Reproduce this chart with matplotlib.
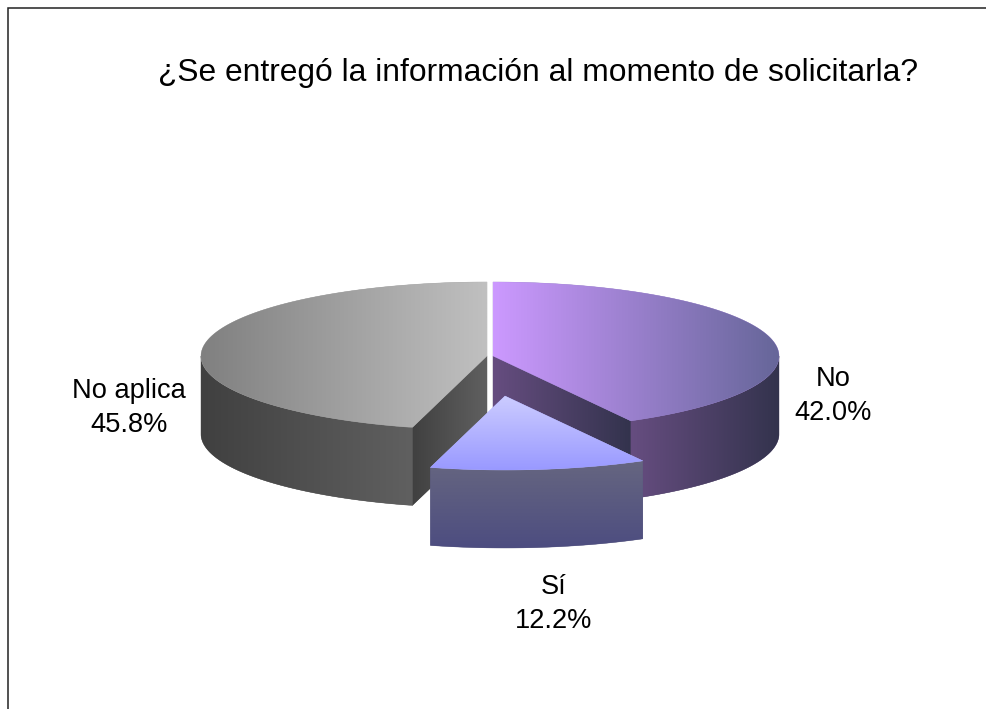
import numpy as np
from matplotlib import pyplot as plt
from matplotlib.colors import LinearSegmentedColormap, to_rgb
from matplotlib.patches import Polygon

plt.rcParams['font.family'] = ['Liberation Sans', 'DejaVu Sans']

title = '¿Se entregó la información al momento de solicitarla?'
labels = ['No', 'Sí', 'No aplica']
shares = [42.0, 12.2, 45.8]

layer = [1]


def rim(cx, cy, a0, a1):
    # angles run clockwise from twelve o'clock
    t = np.radians(np.linspace(a0, a1, 200))
    return np.column_stack([cx + 286 * np.sin(t), cy - 74 * np.cos(t)])


def fill(ax, pts, c0, c1, vertical=False):
    # gradient image clipped to the polygon, solid copy below hides the seams
    cmap = LinearSegmentedColormap.from_list('g', [c0, c1])
    mid = (np.array(to_rgb(c0)) + np.array(to_rgb(c1))) / 2
    ax.add_patch(Polygon(pts, closed=True, fc=mid, ec=mid, lw=0.3, zorder=layer[0]))
    x0, x1 = pts[:, 0].min(), pts[:, 0].max()
    y0, y1 = pts[:, 1].min(), pts[:, 1].max()
    grad = np.linspace(0, 1, 256)
    grad = grad[:, np.newaxis] if vertical else grad[np.newaxis, :]
    im = ax.imshow(grad, cmap=cmap, extent=[x0, x1, y1, y0], aspect='auto',
                   interpolation='bilinear', vmin=0, vmax=1, zorder=layer[0] + 1)
    patch = Polygon(pts, closed=True, fc='none', ec='none', transform=ax.transData)
    im.set_clip_path(patch)
    layer[0] += 2


def outer_wall(cx, cy, a0, a1, depth):
    top = rim(cx, cy, a0, a1)
    return np.vstack([top, top[::-1] + [0, depth]])


def cut_wall(cx, cy, a, depth):
    p = rim(cx, cy, a, a)[0]
    return np.array([[cx, cy], p, p + [0, depth], [cx, cy + depth]])


def sector(cx, cy, a0, a1):
    return np.vstack([[cx, cy], rim(cx, cy, a0, a1)])


fig = plt.figure(figsize=(9.87, 7.09), dpi=100)
ax = fig.add_axes([0, 0, 1, 1])

ends = np.cumsum(shares) * 3.6
a_no, a_si = ends[0], ends[1]
depth = 78

# No aplica
cx, cy = 487, 356
fill(ax, cut_wall(cx, cy, a_si, depth), '#404040', '#606060')
fill(ax, outer_wall(cx, cy, a_si, 270, depth), '#404040', '#606060')
fill(ax, sector(cx, cy, a_si, 360), '#808080', '#C0C0C0')

# No
cx, cy = 493, 356
fill(ax, cut_wall(cx, cy, a_no, depth), '#664D80', '#33334D')
fill(ax, outer_wall(cx, cy, 90, a_no, depth), '#664D80', '#33334D')
fill(ax, sector(cx, cy, 0, a_no), '#CC99FF', '#666699')

# Si, pulled out of the pie
cx, cy = 505, 396
fill(ax, outer_wall(cx, cy, a_no, a_si, depth), '#666680', '#4D4D80', vertical=True)
fill(ax, sector(cx, cy, a_no, a_si), '#CCCCFF', '#9999FF', vertical=True)

ax.set_xlim(0, 987)
ax.set_ylim(709, 0)
ax.axis('off')

# chart frame, the right and bottom sides fall off the picture
ax.plot([8, 8, 987], [709, 7.5, 7.5], color='#222222', lw=1.1, solid_joinstyle='miter')

ax.text(537.5, 73, title, fontsize=22.9, ha='center', va='center', color='black', zorder=50)

label_pos = [(833, 396), (554, 604), (129, 408)]
for name, val, (x, y) in zip(labels, shares, label_pos):
    ax.text(x, y, '%s\n%.1f%%' % (name, val), fontsize=19.6, ha='center', va='center',
            linespacing=1.42, color='black', zorder=50)

fig.savefig('out.png', dpi=100)
